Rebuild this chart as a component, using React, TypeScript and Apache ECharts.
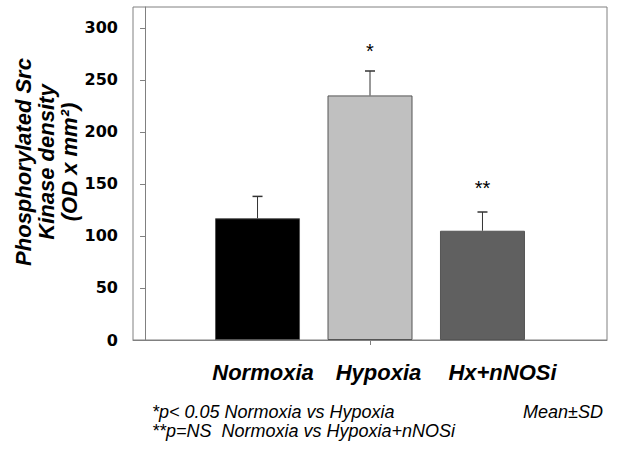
import React, { useEffect, useRef } from "react";
import * as echarts from "echarts";

const categories = ["Normoxia", "Hypoxia", "Hx+nNOSi"];
const positions = [1, 2, 3];
const means = [117, 235, 105];
const sds = [21, 23.5, 18];
const barColors = ["#000000", "#c0c0c0", "#606060"];
const sigLabels = ["", "*", "**"];
const sigValues = [0, 278, 146];
const yTicks = [0, 50, 100, 150, 200, 250, 300];
const footnote1 = "*p< 0.05 Normoxia vs Hypoxia";
const footnote2 = "**p=NS  Normoxia vs Hypoxia+nNOSi";
const footnote3 = "Mean±SD";
const yTitle = ["Phosphorylated Src", "Kinase density", "(OD x mm²)"];

export default function App() {
  const ref = useRef<HTMLDivElement>(null);
  useEffect(() => {
    if (!ref.current) return;
    const chart = echarts.init(ref.current, null, { renderer: "svg" });
    const labelKeys = ["a", "b", "c"];
    const labelStyle = (pad: number) => ({
      fontFamily: "Liberation Sans",
      fontWeight: "bold",
      fontStyle: "italic",
      fontSize: 22,
      color: "#000",
      padding: [0, 0, 0, pad],
    });
    const option: any = {
      animation: false,
      backgroundColor: "#ffffff",
      grid: {
        left: 133,
        top: 7,
        right: 10,
        bottom: 123,
        show: true,
        borderColor: "#808080",
        borderWidth: 1,
        backgroundColor: "transparent",
      },
      xAxis: {
        type: "value",
        min: -0.107,
        max: 4.107,
        splitLine: { show: false },
        axisLine: { show: true, lineStyle: { color: "#808080", width: 1 } },
        axisTick: {
          show: true,
          customValues: [2],
          length: 5,
          lineStyle: { color: "#808080" },
        },
        axisLabel: {
          show: true,
          customValues: positions,
          margin: 21,
          formatter: (v: number) => {
            const i = positions.indexOf(Math.round(v));
            return i >= 0 ? `{${labelKeys[i]}|${categories[i]}}` : "";
          },
          rich: {
            a: labelStyle(11),
            b: labelStyle(17),
            c: labelStyle(40),
          },
        },
      },
      yAxis: {
        type: "value",
        min: 0,
        max: 320,
        interval: 50,
        splitLine: { show: false },
        axisLine: { show: true, lineStyle: { color: "#808080", width: 1 } },
        axisTick: {
          show: true,
          customValues: yTicks,
          length: 5,
          lineStyle: { color: "#808080" },
        },
        axisLabel: {
          customValues: yTicks,
          margin: 15,
          fontFamily: "DejaVu Sans",
          fontWeight: "bold",
          fontSize: 16,
          color: "#000",
        },
      },
      series: [
        {
          type: "bar",
          barWidth: 85,
          data: positions.map((p, i) => ({
            value: [p, means[i]],
            itemStyle: { color: barColors[i], borderColor: "#555555", borderWidth: 1 },
          })),
        },
        {
          type: "custom",
          data: positions.map((p, i) => [p, means[i], means[i] + sds[i]]),
          z: 5,
          renderItem: (params: any, api: any) => {
            const x = api.value(0);
            const base = api.coord([x, api.value(1)]);
            const top = api.coord([x, api.value(2)]);
            const hw = 5;
            return {
              type: "group",
              children: [
                {
                  type: "line",
                  shape: { x1: base[0], y1: base[1], x2: top[0], y2: top[1] },
                  style: { stroke: "#333333", lineWidth: 1 },
                },
                {
                  type: "line",
                  shape: { x1: top[0] - hw, y1: top[1], x2: top[0] + hw, y2: top[1] },
                  style: { stroke: "#333333", lineWidth: 1.5 },
                },
              ],
            };
          },
        },
        {
          type: "custom",
          data: positions.map((p, i) => [p, sigValues[i], i]),
          z: 6,
          renderItem: (params: any, api: any) => {
            const i = api.value(2);
            const pt = api.coord([api.value(0), api.value(1)]);
            return {
              type: "text",
              x: pt[0],
              y: pt[1],
              style: {
                text: sigLabels[i],
                fontFamily: "Liberation Sans",
                fontSize: 20,
                fill: "#000",
                align: "center",
                verticalAlign: "middle",
              },
            };
          },
        },
      ],
      graphic: [
        {
          type: "text",
          x: 46,
          y: 162,
          rotation: Math.PI / 2,
          style: {
            text: yTitle.join("\n"),
            fontFamily: "Liberation Sans",
            fontWeight: "bold",
            fontStyle: "italic",
            fontSize: 22,
            lineHeight: 23,
            fill: "#000",
            align: "center",
            verticalAlign: "middle",
          },
        },
        {
          type: "text",
          left: 152,
          top: 403,
          style: {
            text: footnote1,
            fontFamily: "Liberation Sans",
            fontStyle: "italic",
            fontSize: 18,
            fill: "#000",
          },
        },
        {
          type: "text",
          left: 152,
          top: 422,
          style: {
            text: footnote2,
            fontFamily: "Liberation Sans",
            fontStyle: "italic",
            fontSize: 18,
            fill: "#000",
          },
        },
        {
          type: "text",
          right: 14,
          top: 403,
          style: {
            text: footnote3,
            fontFamily: "Liberation Sans",
            fontStyle: "italic",
            fontSize: 18,
            fill: "#000",
          },
        },
      ],
    };
    chart.setOption(option);
    return () => chart.dispose();
  }, []);
  return (
    <div
      ref={ref}
      style={{ width: 617, height: 463, position: "absolute", left: 0, top: 0 }}
    />
  );
}
